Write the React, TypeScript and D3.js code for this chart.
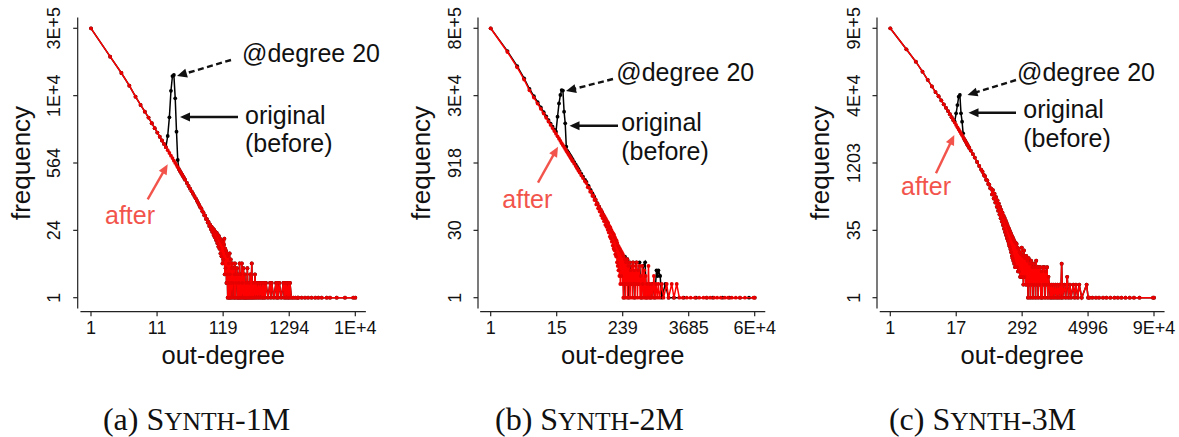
import React from "react";
import * as d3 from "d3";

// ---------- tick labels ----------
const xTickLabelsA = ["1", "11", "119", "1294", "1E+4"];
const yTickLabelsA = ["1", "24", "564", "1E+4", "3E+5"];
const xTickLabelsB = ["1", "15", "239", "3685", "6E+4"];
const yTickLabelsB = ["1", "30", "918", "3E+4", "8E+5"];
const xTickLabelsC = ["1", "17", "292", "4996", "9E+4"];
const yTickLabelsC = ["1", "35", "1203", "4E+4", "9E+5"];

// axis maxima (data space)
const xMaxA = 14100, yMaxA = 310000;
const xMaxB = 57000, yMaxB = 830000;
const xMaxC = 85300, yMaxC = 1450000;

// ---------- panel (a) SYNTH-1M ----------
const degMainA = [1,2,3,4,5,6,7,8,9,10,11,12,13,14,15,16,17,18,19,20,21,22,23,24,25,26,27,28,29,30,32,34,36,38,40];
const afterMainA = [310000,82000,38000,21000,12500,8500,6200,4700,3600,2860,2320,1910,1600,1360,1170,1015,890,785,700,620,560,505,457,416,380,349,321,296,274,255,219,190,167,147,131];
const beforeMainA = [310000,82000,38000,21000,12500,8500,6200,4700,3600,2860,2320,1910,1600,1360,1170,1977,4750,16500,33000,34600,11600,2420,641,416,380,349,321,296,274,255,219,190,167,147,131];
const tailA: [number, number][] = [[42,118],[44,106],[46,95],[48,86],[50,78],[52,70],[54,66],[56,58],[58,55],[60,48],[62,47],[64,40],[66,40],[68,34],[70,35],[72,29],[74,31],[76,25],[78,28],[80,22],[82,26],[84,19],[86,24],[88,17],[90,22],[92,15],[94,21],[96,13],[98,19],[100,11],[102,18],[104,10],[106,16],[108,8],[110,15],[112,7],[114,14],[116,5],[118,13],[120,6],[122,12],[124,16],[126,3],[128,10],[130,4],[132,9],[134,2],[136,8],[138,3],[140,1],[142,7],[144,2],[146,5],[148,1],[150,8],[152,3],[154,1],[156,6],[158,2],[161,4],[164,1],[167,5],[170,2],[173,4],[176,1],[179,3],[182,5],[185,1],[188,3],[191,2],[195,4],[199,1],[203,3],[207,1],[211,2],[215,5],[219,1],[223,3],[228,1],[233,5],[238,2],[243,1],[248,4],[254,1],[260,3],[266,1],[272,2],[278,1],[285,4],[292,1],[300,2],[308,1],[316,3],[325,1],[334,5],[343,1],[353,2],[363,1],[375,3],[387,1],[400,2],[415,1],[430,2],[445,1],[461,2],[478,1],[497,2],[508,1],[520,2],[540,1],[559,2],[600,1],[646,2],[665,1],[687,2],[740,1],[802,2],[820,1],[841,2],[870,1],[904,2],[970,1],[1045,2],[1080,1],[1110,2],[1150,1],[1181,2],[1230,1],[1270,2],[1300,1],[1330,2],[1400,1],[1500,1],[1620,1],[1750,1],[1800,1],[2030,1],[2290,1],[2560,1],[2900,1],[3310,1],[3700,1],[4190,1],[5020,1],[5650,1],[7200,1],[9710,1],[13100,1],[14100,1]];

// ---------- panel (b) SYNTH-2M ----------
const degMainB = [1,2,3,4,5,6,7,8,9,10,11,12,13,14,15,16,17,18,19,20,21,22,23,24,25,26,27,28,29,30,32,34,36,38,40,43,46,50];
const afterMainB = [830000,250000,115000,62000,36000,25000,18400,14100,11100,9000,7440,6250,5330,4590,4000,3520,3110,2780,2490,2250,2040,1860,1700,1560,1440,1330,1235,1150,1070,1000,880,780,695,623,562,487,425,360];
const beforeMainB = [830000,262000,122000,66000,38500,26800,19700,15100,11900,9650,7980,6700,5720,4930,4430,9470,18600,28400,36500,35600,12200,6780,2076,1680,1550,1430,1330,1240,1150,1080,950,840,750,672,606,525,458,388];
const tailAfterB: [number, number][] = [[53,330],[56,268],[59,262],[62,214],[65,214],[68,172],[71,176],[74,140],[77,146],[80,112],[83,120],[86,92],[89,102],[92,78],[95,88],[98,64],[101,78],[104,56],[107,68],[110,48],[113,60],[116,40],[119,54],[122,36],[125,48],[128,31],[131,44],[134,27],[137,38],[140,22],[143,35],[146,20],[149,31],[152,17],[155,28],[158,14],[161,26],[164,12],[167,24],[170,11],[173,21],[176,9],[179,19],[182,8],[185,18],[188,6],[191,16],[194,5],[197,14],[200,4],[204,13],[208,3],[212,12],[216,2],[220,11],[225,3],[230,10],[235,2],[240,9],[245,1],[250,8],[256,2],[262,7],[268,1],[274,6],[280,2],[287,7],[294,1],[301,5],[308,2],[316,6],[324,1],[332,4],[340,2],[349,5],[358,1],[367,6],[376,2],[386,4],[396,1],[406,5],[417,2],[428,6],[440,1],[452,4],[465,2],[478,5],[492,1],[506,3],[520,1],[535,5],[550,2],[566,1],[582,4],[600,1],[618,3],[636,1],[655,2],[675,1],[695,5],[716,1],[738,2],[760,1],[796,2],[830,1],[870,3],[910,1],[950,2],[1000,1],[1047,2],[1100,1],[1205,2],[1300,1],[1483,2],[1600,1],[1825,2],[2000,1],[2245,2],[2500,1],[2900,1],[3400,1],[4000,1],[4800,1],[5700,1],[6800,1],[7800,1],[9000,1],[10500,1],[12000,1],[14000,1],[16500,1],[19000,1],[22000,1],[26000,1],[31000,1],[38000,1],[54000,1],[57000,1]];
const tailBeforeB: [number, number][] = [[53,350],[58,285],[63,235],[68,195],[73,165],[78,140],[84,118],[90,100],[96,86],[102,74],[108,64],[114,56],[120,49],[127,43],[134,37],[141,32],[149,28],[157,24],[165,21],[174,18],[183,16],[193,14],[203,12],[214,11],[225,9],[237,8],[250,1],[262,8],[275,2],[290,7],[305,1],[320,6],[340,2],[366,6],[390,1],[420,6],[450,2],[480,6],[520,1],[560,5],[605,6],[640,1],[700,2],[760,1],[830,2],[900,1],[970,4],[1010,3],[1050,4],[1130,3],[1200,1],[1400,2],[1600,1],[2000,1],[3000,1],[5000,1],[7800,1],[10000,1],[15000,1],[20000,1],[31000,1],[45000,1],[57000,1]];

// ---------- panel (c) SYNTH-3M ----------
const degMainC = [1,2,3,4,5,6,7,8,9,10,11,12,13,14,15,16,17,18,19,20,21,22,23,24,25,26,27,28,29,30,32,35,38,42,46,50];
const afterMainC = [1450000,480000,250000,148000,96000,68000,50500,40500,32500,26500,22000,18500,15700,13400,11600,10100,8900,7900,7050,6350,5720,5200,4720,4300,3940,3620,3340,3080,2860,2660,2320,1930,1600,1270,1030,850];
const beforeMainC = [1450000,480000,250000,148000,96000,68000,50500,40500,32500,26500,22000,18500,15700,13400,11600,10600,16500,25500,39500,43200,16500,10600,5750,4300,3940,3620,3340,3080,2860,2660,2320,1930,1600,1270,1030,850];
const tailC: [number, number][] = [[53,760],[56,640],[59,600],[62,500],[65,480],[68,400],[71,385],[74,320],[77,312],[80,230],[83,290],[86,185],[89,240],[92,150],[95,200],[98,120],[101,168],[104,98],[107,142],[110,80],[113,120],[116,66],[119,102],[122,55],[125,88],[128,46],[131,76],[134,38],[137,67],[140,32],[143,59],[146,27],[149,52],[152,23],[155,46],[158,20],[161,41],[164,17],[167,37],[170,15],[173,33],[176,13],[179,30],[182,11],[185,27],[188,9],[191,25],[194,8],[197,23],[200,7],[204,21],[208,6],[212,19],[216,5],[220,18],[225,5],[230,17],[235,5],[240,14],[245,4],[250,13],[256,4],[262,11],[268,3],[274,10],[280,3],[287,14],[294,3],[301,9],[308,2],[316,12],[324,3],[332,8],[340,2],[349,9],[358,2],[367,7],[376,1],[386,8],[396,2],[406,6],[417,1],[428,7],[440,2],[452,5],[465,1],[478,6],[492,2],[506,5],[520,1],[535,7],[550,2],[566,5],[582,1],[600,5],[618,2],[636,5],[655,1],[675,4],[695,1],[716,5],[738,2],[760,5],[783,1],[806,4],[830,2],[855,5],[880,1],[906,3],[940,2],[980,1],[1020,2],[1060,1],[1110,2],[1160,1],[1220,2],[1280,1],[1340,2],[1400,1],[1470,2],[1540,1],[1600,6],[1660,1],[1800,2],[1900,1],[2033,3],[2150,1],[2286,2],[2400,1],[2640,2],[2800,1],[2960,2],[3200,1],[3410,2],[3800,1],[4690,2],[5000,1],[5300,1],[6000,1],[7000,1],[8000,1],[9500,1],[11000,1],[13000,1],[15500,1],[18000,1],[21000,1],[25000,1],[30000,1],[36000,1],[45700,1],[81800,1],[85300,1]];

const zip = (xs: number[], ys: number[]): [number, number][] => xs.map((v, i) => [v, ys[i]]);

const SANS = "'Liberation Sans', Arial, Helvetica, sans-serif";
const SERIF = "'Liberation Serif', 'Times New Roman', serif";
const RED = "#ff0000";
const DOT_RED = "#e60000";
const SALMON = "#f2544c";
const Y_BOTTOM = 297.7;
const Y_TOP = 28.3;
const X_AXIS_Y = 311.7;

type Arrow = { x1: number; y1: number; x2: number; y2: number };
type PanelCfg = {
  ox: number; axisX: number; x0: number; x1: number;
  xMax: number; yMax: number; xLabels: string[]; yLabels: string[];
  after: [number, number][]; before: [number, number][];
  deg: { x: number; y: number }; orig: { x: number; y1: number; y2: number };
  aft: { x: number; y: number };
  dashArrow: Arrow; solidArrow: Arrow; redArrow: Arrow;
  letter: string; num: string;
};

function ArrowMark({ a, color, dashed }: { a: Arrow; color: string; dashed?: boolean }) {
  const dx = a.x2 - a.x1, dy = a.y2 - a.y1;
  const len = Math.hypot(dx, dy);
  const ux = dx / len, uy = dy / len;
  const L = 10, W = 4.5;
  const bx = a.x2 - ux * L, by = a.y2 - uy * L;
  const pts = [[a.x2, a.y2], [bx - uy * W, by + ux * W], [bx + uy * W, by - ux * W]]
    .map((p) => p.join(",")).join(" ");
  return (
    <g>
      <line x1={a.x1} y1={a.y1} x2={bx + ux * 1} y2={by + uy * 1} stroke={color} strokeWidth={2.4}
        strokeDasharray={dashed ? "6,3.5" : undefined} />
      <polygon points={pts} fill={color} />
    </g>
  );
}

function Panel({ c }: { c: PanelCfg }) {
  const x = d3.scaleLog().domain([1, c.xMax]).range([c.x0, c.x1]);
  const y = d3.scaleLog().domain([1, c.yMax]).range([Y_BOTTOM, Y_TOP]);
  const line = d3.line<[number, number]>().x((d) => x(d[0])).y((d) => y(d[1]));
  const xTicks = c.xLabels.map((_, i) => Math.pow(c.xMax, i / 4));
  const yTicks = c.yLabels.map((_, i) => Math.pow(c.yMax, i / 4));
  const padX = 0.04 * (c.x1 - c.x0);
  const padY = 0.04 * (Y_BOTTOM - Y_TOP);
  const midX = (c.x0 + c.x1) / 2;
  const midY = (Y_BOTTOM + Y_TOP) / 2;
  return (
    <g>
      {/* axes */}
      <line x1={c.axisX} x2={c.axisX} y1={Y_TOP - padY} y2={Y_BOTTOM + padY} stroke="#222" strokeWidth={1.2} />
      <line x1={c.x0 - padX} x2={c.x1 + padX} y1={X_AXIS_Y} y2={X_AXIS_Y} stroke="#222" strokeWidth={1.2} />
      {yTicks.map((t, i) => (
        <g key={"yt" + i}>
          <line x1={c.axisX - 4.5} x2={c.axisX} y1={y(t)} y2={y(t)} stroke="#222" strokeWidth={1.2} />
          <text transform={`translate(${c.axisX - 17.5},${y(t)}) rotate(-90)`} textAnchor="middle"
            fontFamily={SANS} fontSize={18} fill="#111">{c.yLabels[i]}</text>
        </g>
      ))}
      {xTicks.map((t, i) => (
        <g key={"xt" + i}>
          <line x1={x(t)} x2={x(t)} y1={X_AXIS_Y} y2={X_AXIS_Y + 4.5} stroke="#222" strokeWidth={1.2} />
          <text x={x(t)} y={333.5} textAnchor="middle" fontFamily={SANS} fontSize={18} fill="#111">{c.xLabels[i]}</text>
        </g>
      ))}
      <text x={midX} y={364} textAnchor="middle" fontFamily={SANS} fontSize={25.5} fill="#111">out-degree</text>
      <text transform={`translate(${c.axisX - 48},${midY}) rotate(-90)`} textAnchor="middle"
        fontFamily={SANS} fontSize={26} fill="#111">frequency</text>

      {/* original (before) series */}
      <path d={line(c.before) || ""} fill="none" stroke="#000" strokeWidth={1.5} />
      {c.before.map((d, i) => (
        <circle key={"b" + i} cx={x(d[0])} cy={y(d[1])} r={1.9} fill="#000" />
      ))}
      {/* after series */}
      <path d={line(c.after) || ""} fill="none" stroke={RED} strokeWidth={1.5} />
      {c.after.map((d, i) => (
        <circle key={"a" + i} cx={x(d[0])} cy={y(d[1])} r={1.9} fill={DOT_RED} />
      ))}

      {/* annotations */}
      <text x={c.deg.x} y={c.deg.y} fontFamily={SANS} fontSize={25} fill="#111">@degree 20</text>
      <text x={c.orig.x} y={c.orig.y1} fontFamily={SANS} fontSize={25} fill="#111">original</text>
      <text x={c.orig.x} y={c.orig.y2} fontFamily={SANS} fontSize={25} fill="#111">(before)</text>
      <text x={c.aft.x} y={c.aft.y} fontFamily={SANS} fontSize={25} fill={SALMON}>after</text>
      <ArrowMark a={c.dashArrow} color="#111" dashed />
      <ArrowMark a={c.solidArrow} color="#111" />
      <ArrowMark a={c.redArrow} color={SALMON} />

      {/* caption */}
      <text x={c.ox + 196.5} y={430} textAnchor="middle" fontFamily={SERIF} fontSize={32} fill="#111">
        ({c.letter}) S<tspan fontSize={25.5}>YNTH</tspan>-{c.num}M
      </text>
    </g>
  );
}

const panels: PanelCfg[] = [
  {
    ox: 0, axisX: 77.7, x0: 91, x1: 355.3, xMax: xMaxA, yMax: yMaxA,
    xLabels: xTickLabelsA, yLabels: yTickLabelsA,
    after: zip(degMainA, afterMainA).concat(tailA),
    before: zip(degMainA, beforeMainA).concat(tailA),
    deg: { x: 242, y: 62 }, orig: { x: 245, y1: 124, y2: 152 }, aft: { x: 105, y: 224 },
    dashArrow: { x1: 231, y1: 60, x2: 177, y2: 76 },
    solidArrow: { x1: 238, y1: 117, x2: 180, y2: 117 },
    redArrow: { x1: 147.7, y1: 199.3, x2: 167.7, y2: 164.3 },
    letter: "a", num: "1",
  },
  {
    ox: 393, axisX: 478, x0: 490.7, x1: 754.7, xMax: xMaxB, yMax: yMaxB,
    xLabels: xTickLabelsB, yLabels: yTickLabelsB,
    after: zip(degMainB, afterMainB).concat(tailAfterB),
    before: zip(degMainB, beforeMainB).concat(tailBeforeB),
    deg: { x: 616.3, y: 81 }, orig: { x: 621.3, y1: 131, y2: 160 }, aft: { x: 502.3, y: 208 },
    dashArrow: { x1: 613, y1: 79, x2: 566, y2: 91 },
    solidArrow: { x1: 618, y1: 125.7, x2: 569.5, y2: 125.7 },
    redArrow: { x1: 538, y1: 182.7, x2: 558, y2: 146.7 },
    letter: "b", num: "2",
  },
  {
    ox: 786, axisX: 877, x0: 890.3, x1: 1154, xMax: xMaxC, yMax: yMaxC,
    xLabels: xTickLabelsC, yLabels: yTickLabelsC,
    after: zip(degMainC, afterMainC).concat(tailC),
    before: zip(degMainC, beforeMainC).concat(tailC),
    deg: { x: 1017, y: 81 }, orig: { x: 1023.3, y1: 118, y2: 146.7 }, aft: { x: 901, y: 195 },
    dashArrow: { x1: 1016, y1: 80, x2: 967.5, y2: 95 },
    solidArrow: { x1: 1016, y1: 112.7, x2: 968.5, y2: 112.7 },
    redArrow: { x1: 936, y1: 173.3, x2: 954.3, y2: 135 },
    letter: "c", num: "3",
  },
];

export default function App() {
  return (
    <div style={{ position: "absolute", left: 0, top: 0 }}>
      <svg width={1179} height={437} viewBox="0 0 1179 437" style={{ display: "block", background: "#fff" }}>
        <rect x={0} y={0} width={1179} height={437} fill="#fff" />
        {panels.map((p, i) => <Panel key={i} c={p} />)}
      </svg>
    </div>
  );
}
